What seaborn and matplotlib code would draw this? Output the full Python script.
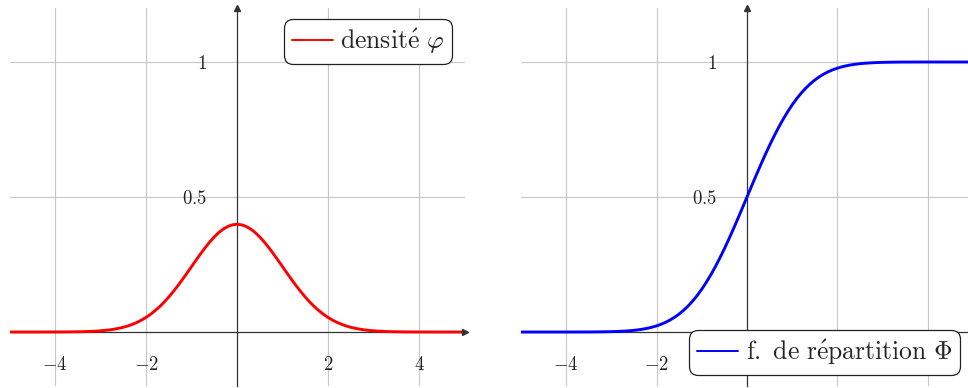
import matplotlib
matplotlib.use("Agg")
import matplotlib.pyplot as plt
import seaborn as sns
import pandas as pd

# ---- data ----
x_vals = [-5.0, -4.9, -4.8, -4.7, -4.6, -4.5, -4.4, -4.3, -4.2, -4.1,
          -4.0, -3.9, -3.8, -3.7, -3.6, -3.5, -3.4, -3.3, -3.2, -3.1,
          -3.0, -2.9, -2.8, -2.7, -2.6, -2.5, -2.4, -2.3, -2.2, -2.1,
          -2.0, -1.9, -1.8, -1.7, -1.6, -1.5, -1.4, -1.3, -1.2, -1.1,
          -1.0, -0.9, -0.8, -0.7, -0.6, -0.5, -0.4, -0.3, -0.2, -0.1,
          0.0,
          0.1, 0.2, 0.3, 0.4, 0.5, 0.6, 0.7, 0.8, 0.9, 1.0,
          1.1, 1.2, 1.3, 1.4, 1.5, 1.6, 1.7, 1.8, 1.9, 2.0,
          2.1, 2.2, 2.3, 2.4, 2.5, 2.6, 2.7, 2.8, 2.9, 3.0,
          3.1, 3.2, 3.3, 3.4, 3.5, 3.6, 3.7, 3.8, 3.9, 4.0,
          4.1, 4.2, 4.3, 4.4, 4.5, 4.6, 4.7, 4.8, 4.9, 5.0]
density = [0.0, 0.0, 0.0, 0.0, 0.0, 0.0, 0.0, 0.0, 0.0001, 0.0001,
           0.0001, 0.0002, 0.0003, 0.0004, 0.0006, 0.0009, 0.0012, 0.0017, 0.0024, 0.0033,
           0.0044, 0.0060, 0.0079, 0.0104, 0.0136, 0.0175, 0.0224, 0.0283, 0.0355, 0.0440,
           0.0540, 0.0656, 0.0790, 0.0940, 0.1109, 0.1295, 0.1497, 0.1714, 0.1942, 0.2179,
           0.2420, 0.2661, 0.2897, 0.3123, 0.3332, 0.3521, 0.3683, 0.3814, 0.3910, 0.3970,
           0.3989,
           0.3970, 0.3910, 0.3814, 0.3683, 0.3521, 0.3332, 0.3123, 0.2897, 0.2661, 0.2420,
           0.2179, 0.1942, 0.1714, 0.1497, 0.1295, 0.1109, 0.0940, 0.0790, 0.0656, 0.0540,
           0.0440, 0.0355, 0.0283, 0.0224, 0.0175, 0.0136, 0.0104, 0.0079, 0.0060, 0.0044,
           0.0033, 0.0024, 0.0017, 0.0012, 0.0009, 0.0006, 0.0004, 0.0003, 0.0002, 0.0001,
           0.0001, 0.0001, 0.0, 0.0, 0.0, 0.0, 0.0, 0.0, 0.0, 0.0]
repartition = [0.0, 0.0, 0.0, 0.0, 0.0, 0.0, 0.0, 0.0, 0.0, 0.0,
               0.0, 0.0, 0.0001, 0.0001, 0.0002, 0.0002, 0.0003, 0.0005, 0.0007, 0.0010,
               0.0013, 0.0019, 0.0026, 0.0035, 0.0047, 0.0062, 0.0082, 0.0107, 0.0139, 0.0179,
               0.0228, 0.0287, 0.0359, 0.0446, 0.0548, 0.0668, 0.0808, 0.0968, 0.1151, 0.1357,
               0.1587, 0.1841, 0.2119, 0.2420, 0.2743, 0.3085, 0.3446, 0.3821, 0.4207, 0.4602,
               0.5000,
               0.5398, 0.5793, 0.6179, 0.6554, 0.6915, 0.7257, 0.7580, 0.7881, 0.8159, 0.8413,
               0.8643, 0.8849, 0.9032, 0.9192, 0.9332, 0.9452, 0.9554, 0.9641, 0.9713, 0.9772,
               0.9821, 0.9861, 0.9893, 0.9918, 0.9938, 0.9953, 0.9965, 0.9974, 0.9981, 0.9987,
               0.9990, 0.9993, 0.9995, 0.9997, 0.9998, 0.9998, 0.9999, 0.9999, 1.0, 1.0,
               1.0, 1.0, 1.0, 1.0, 1.0, 1.0, 1.0, 1.0, 1.0, 1.0]

x_ticks = [-4, -2, 2, 4]
x_tick_labels_left = ["$-4$", "$-2$", "$2$", "$4$"]
x_tick_labels_right = ["$-4$", "$-2$", "", ""]   # 2 and 4 are hidden by the legend
y_ticks = [0.5, 1]
y_tick_labels = ["$0.5$", "$1$"]
label_density = r"$\mathrm{densit\acute{e}}\ \varphi$"
label_repartition = r"$\mathrm{f.\ de\ r\acute{e}partition}\ \Phi$"

df1 = pd.DataFrame({"x": x_vals, "y": density})
df2 = pd.DataFrame({"x": x_vals, "y": repartition})

sns.set_theme(style="white")
plt.rcParams["mathtext.fontset"] = "cm"
plt.rcParams["font.family"] = ["DejaVu Serif", "DejaVu Sans"]

W, H = 968, 388
fig = plt.figure(figsize=(W / 100, H / 100), dpi=100)

ax1 = fig.add_axes([9.5 / W, 2 / H, 455 / W, 378 / H])
ax2 = fig.add_axes([521 / W, 2 / H, 452 / W, 378 / H])

AXC = "#333333"
GRIDC = "#c6c6c6"


def style(ax, xlabels):
    ax.set_xlim(-5, 5)
    ax.set_ylim(-0.2, 1.2)
    ax.set_xticks(x_ticks)
    ax.set_xticklabels(xlabels)
    ax.set_yticks(y_ticks)
    ax.set_yticklabels(y_tick_labels)
    ax.grid(True, color=GRIDC, linewidth=0.8)
    ax.set_axisbelow(True)
    for s in ["top", "right"]:
        ax.spines[s].set_visible(False)
    ax.spines["left"].set_position(("data", 0))
    ax.spines["bottom"].set_position(("data", 0))
    for s in ["left", "bottom"]:
        ax.spines[s].set_color(AXC)
        ax.spines[s].set_linewidth(0.9)
        ax.spines[s].set_zorder(1.5)
    ax.tick_params(axis="x", direction="inout", length=7, width=0.8, color="#888888",
                   pad=14, labelsize=13.5, labelcolor="#222222")
    ax.tick_params(axis="y", direction="inout", length=7, width=0.8, color="#888888",
                   pad=18, labelsize=13.5, labelcolor="#222222")
    ax.set_xlabel("")
    ax.set_ylabel("")
    ax.patch.set_alpha(0)
    ax.plot(1, 0, marker=">", color=AXC, markersize=5, transform=ax.get_yaxis_transform(),
            clip_on=False, zorder=3)
    ax.plot(0, 1, marker="^", color=AXC, markersize=5, transform=ax.get_xaxis_transform(),
            clip_on=False, zorder=3)


sns.lineplot(data=df1, x="x", y="y", ax=ax1, color="#ff0000", linewidth=2.1,
             label=label_density, zorder=2)
sns.lineplot(data=df2, x="x", y="y", ax=ax2, color="#0000ff", linewidth=2.1,
             label=label_repartition, zorder=2)
style(ax1, x_tick_labels_left)
style(ax2, x_tick_labels_right)

leg_kw = dict(fontsize=18.5, frameon=True, fancybox=True, framealpha=1, edgecolor="#222222",
              facecolor="white", handlelength=1.6, handletextpad=0.3, borderpad=0.3,
              borderaxespad=0)
l1 = ax1.legend(loc="upper right", bbox_to_anchor=(1 - 12.5 / 455, 1 - 11 / 378), **leg_kw)
l2 = ax2.legend(loc="lower right", bbox_to_anchor=(1 - 13 / 452, 11 / 378), **leg_kw)
for l in (l1, l2):
    fr = l.get_frame()
    fr.set_linewidth(0.9)
    fr.set_boxstyle("round", pad=0, rounding_size=0.35)
    for h in l.get_lines():
        h.set_linewidth(1.4)
    l.set_zorder(5)

fig.savefig("out.png", dpi=100)
